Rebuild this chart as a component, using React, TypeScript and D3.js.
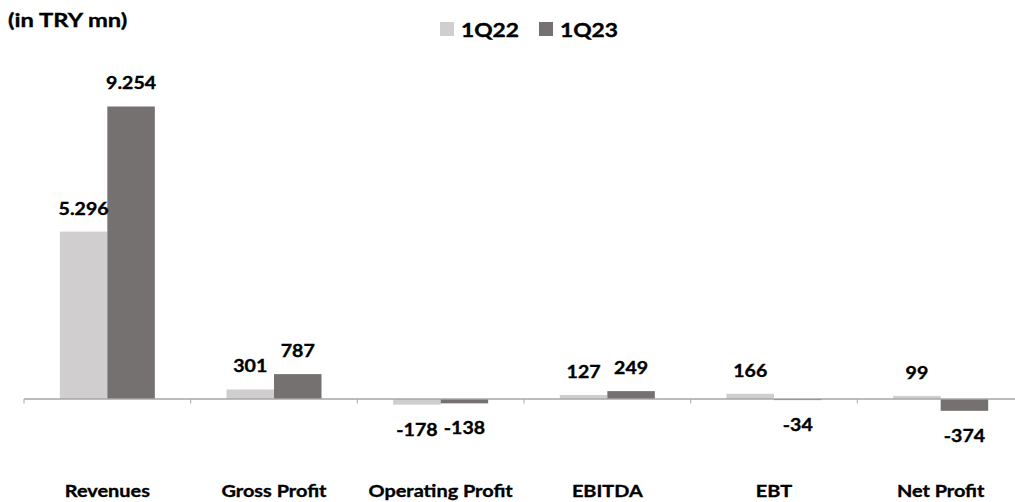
import React from "react";
import * as d3 from "d3";

const categories = ["Revenues", "Gross Profit", "Operating Profit", "EBITDA", "EBT", "Net Profit"];
const seriesNames = ["1Q22", "1Q23"];
const values1Q22 = [5296, 301, -178, 127, 166, 99];
const values1Q23 = [9254, 787, -138, 249, -34, -374];
const valueLabels1Q22 = ["5.296", "301", "-178", "127", "166", "99"];
const valueLabels1Q23 = ["9.254", "787", "-138", "249", "-34", "-374"];
const colors = ["#d0cece", "#767171"];

const W = 1015;
const H = 502;
const FONT = "Lato, 'Open Sans', sans-serif";

export default function App() {
  const axisY = 399;
  const x0 = d3.scaleBand<string>().domain(categories).range([24, 1024]).paddingInner(0.43).paddingOuter(0.215);
  const x1 = d3.scaleBand<string>().domain(seriesNames).range([0, x0.bandwidth()]).padding(0);
  const y = d3.scaleLinear().domain([-2000, 10000]).range([axisY + 2000 * 0.03161, axisY - 10000 * 0.03161]);
  const series = [
    { name: seriesNames[0], values: values1Q22, labels: valueLabels1Q22, color: colors[0] },
    { name: seriesNames[1], values: values1Q23, labels: valueLabels1Q23, color: colors[1] },
  ];
  const step = x0.step();
  const boundaries = d3.range(categories.length + 1).map((i) => 24 + i * step);

  const stretched = (cx: number, cy: number, sx: number) => `translate(${cx},${cy}) scale(${sx},1)`;
  const textStyle = { fontFamily: FONT, fontWeight: "bold" as const, fill: "#000", stroke: "#000", strokeWidth: 0.35 };

  return (
    <svg width={W} height={H} style={{ position: "absolute", left: 0, top: 0, background: "#fff" }}>
      <rect width={W} height={H} fill="#fff" />
      <text transform={stretched(8, 27, 1.2)} fontSize={19.8} style={textStyle}>
        (in TRY mn)
      </text>
      {series.map((s, i) => {
        const lx = 440 + i * 99;
        return (
          <g key={s.name}>
            <rect x={lx} y={22} width={14} height={14} fill={s.color} />
            <text transform={stretched(lx + 21, 36.5, 1.2)} fontSize={19} style={textStyle}>
              {s.name}
            </text>
          </g>
        );
      })}
      {series.map((s) => (
        <g key={s.name}>
          {categories.map((c, j) => {
            const v = s.values[j];
            const bx = (x0(c) as number) + (x1(s.name) as number);
            const top = Math.min(y(v), y(0));
            const h = Math.abs(y(v) - y(0));
            return <rect key={c} x={bx} y={top} width={x1.bandwidth()} height={h} fill={s.color} />;
          })}
        </g>
      ))}
      <line x1={24} x2={W} y1={axisY} y2={axisY} stroke="#a6a6a6" strokeWidth={1.3} />
      {boundaries.map((bx, i) => (
        <line key={i} x1={bx} x2={bx} y1={axisY} y2={axisY + 4.5} stroke="#a6a6a6" strokeWidth={1} />
      ))}
      {series.map((s) => (
        <g key={s.name}>
          {categories.map((c, j) => {
            const v = s.values[j];
            const cx = (x0(c) as number) + (x1(s.name) as number) + x1.bandwidth() / 2;
            const ty = v >= 0 ? y(v) - 17 : y(v) + 31;
            return (
              <text key={c} transform={stretched(cx, ty, 1.15)} textAnchor="middle" fontSize={17} style={textStyle}>
                {s.labels[j]}
              </text>
            );
          })}
        </g>
      ))}
      {categories.map((c) => (
        <text key={c} transform={stretched((x0(c) as number) + x0.bandwidth() / 2, 497, 1.17)} textAnchor="middle" fontSize={17} style={textStyle}>
          {c}
        </text>
      ))}
    </svg>
  );
}
